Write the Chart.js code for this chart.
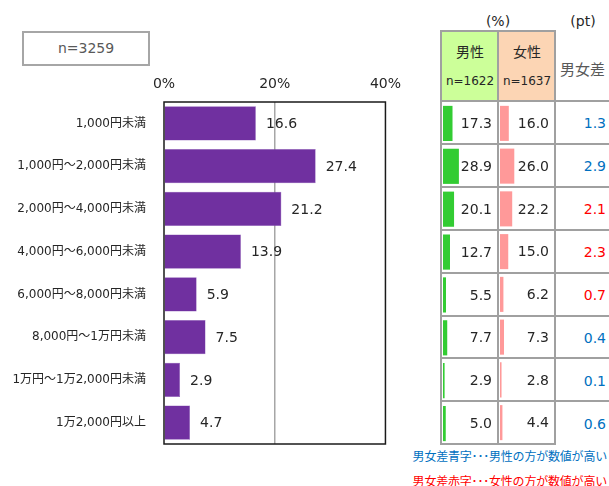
<!DOCTYPE html>
<html lang="ja">
<head>
<meta charset="utf-8">
<script src="https://cdn.jsdelivr.net/npm/chart.js@4/dist/chart.umd.min.js"></script>
<style>
	html, body { margin: 0; padding: 0; background: #fff; }
	#page { position: relative; width: 609px; height: 486px; overflow: hidden; font-family: "DejaVu Sans", "Noto Sans CJK JP", sans-serif; color: #262626; }
	#page canvas, #page .abs { position: absolute; }
	.nbox { left: 22px; top: 31px; width: 124px; height: 31px; border: 2px solid #a6a6a6; color: #595959; font-size: 14px; line-height: 31px; text-align: center; }
	.hline { height: 2px; background: #a0a0a0; }
	.vline { width: 2px; background: #a0a0a0; }
	.head { text-align: center; font-size: 14px; }
	.gap { width: 60px; text-align: right; font-size: 14px; line-height: 16px; }
	.note { right: 2px; font-family: "Noto Sans CJK JP", sans-serif; font-size: 12px; line-height: 14px; letter-spacing: -0.2px; white-space: nowrap; }
</style>
</head>
<body>
<div id="page">
	<div class="abs nbox">n=3259</div>
	<canvas id="mainChart" width="410" height="486" style="left:0;top:0"></canvas>
	<div id="table"></div>
	<canvas id="maleChart" width="57" height="343" style="left:441px;top:102px"></canvas>
	<canvas id="femaleChart" width="57" height="342" style="left:498px;top:102px"></canvas>
</div>
<script>
const categories = ['1,000円未満', '1,000円～2,000円未満', '2,000円～4,000円未満', '4,000円～6,000円未満', '6,000円～8,000円未満', '8,000円～1万円未満', '1万円～1万2,000円未満', '1万2,000円以上'];
const totalValues = [16.6, 27.4, 21.2, 13.9, 5.9, 7.5, 2.9, 4.7];
const maleValues = [17.3, 28.9, 20.1, 12.7, 5.5, 7.7, 2.9, 5.0];
const femaleValues = [16.0, 26.0, 22.2, 15.0, 6.2, 7.3, 2.8, 4.4];
// positive: male higher (blue), negative: female higher (red)
const gapValues = [1.3, 2.9, -2.1, -2.3, -0.7, 0.4, 0.1, 0.6];
const xTicks = [0, 20, 40];

const FONT = '"DejaVu Sans", "Noto Sans CJK JP", sans-serif';
const TEXT = '#262626';

// value labels next to the bars
const barLabels = (xOffset, align) => ({
	id: 'barLabels',
	afterDatasetsDraw(chart) {
		const ctx = chart.ctx;
		const data = chart.data.datasets[0].data;
		ctx.save();
		ctx.font = '14px ' + FONT;
		ctx.fillStyle = TEXT;
		ctx.textAlign = align;
		ctx.textBaseline = 'middle';
		chart.getDatasetMeta(0).data.forEach((bar, i) => {
			const x = align === 'left' ? bar.x + xOffset : xOffset;
			ctx.fillText(data[i].toFixed(1), x, bar.y + 1);
		});
		ctx.restore();
	}
});

const plotFrame = {
	id: 'plotFrame',
	afterDatasetsDraw(chart) {
		const a = chart.chartArea;
		const ctx = chart.ctx;
		ctx.save();
		ctx.strokeStyle = '#1a1a1a';
		ctx.lineWidth = 1.5;
		ctx.strokeRect(a.left, a.top, a.right - a.left, a.bottom - a.top);
		ctx.restore();
	}
};

new Chart(document.getElementById('mainChart'), {
	type: 'bar',
	data: {
		labels: categories,
		datasets: [{
			data: totalValues,
			backgroundColor: '#7030A0',
			borderColor: '#8c5cb8',
			borderWidth: 0.5,
			barPercentage: 0.8,
			categoryPercentage: 1
		}]
	},
	options: {
		indexAxis: 'y',
		responsive: false,
		animation: false,
		layout: { padding: { left: 0, right: 22, top: 70, bottom: 42 } },
		plugins: { legend: { display: false }, tooltip: { enabled: false } },
		scales: {
			x: {
				position: 'top',
				min: 0,
				max: 40,
				afterFit: s => { s.height = 32; },
				afterBuildTicks: s => { s.ticks = xTicks.map(v => ({ value: v })); },
				border: { display: false },
				grid: {
					drawTicks: false,
					color: c => c.tick && c.tick.value === 20 ? '#a6a6a6' : 'rgba(0,0,0,0)',
					lineWidth: 1.5
				},
				ticks: {
					padding: 9,
					color: TEXT,
					font: { family: FONT, size: 14 },
					callback: v => v + '%'
				}
			},
			y: {
				afterFit: s => { s.width = 164; },
				border: { display: false },
				grid: { display: false, drawTicks: false },
				ticks: {
					padding: 18,
					color: TEXT,
					font: { family: FONT, size: 12 }
				}
			}
		}
	},
	plugins: [barLabels(10, 'left'), plotFrame]
});

function miniChart(id, values, color) {
	new Chart(document.getElementById(id), {
		type: 'bar',
		data: {
			labels: categories,
			datasets: [{
				data: values,
				backgroundColor: color,
				barPercentage: 0.82,
				categoryPercentage: 1
			}]
		},
		options: {
			indexAxis: 'y',
			responsive: false,
			animation: false,
			layout: { padding: { left: 2, right: 0, top: 0, bottom: 0 } },
			plugins: { legend: { display: false }, tooltip: { enabled: false } },
			scales: {
				x: { display: false, min: 0, max: 100 },
				y: { display: false }
			}
		},
		plugins: [barLabels(51, 'right')]
	});
}
miniChart('maleChart', maleValues, '#33CC33');
miniChart('femaleChart', femaleValues, '#FF9999');

// table frame, headers and gap column
const table = document.getElementById('table');
function add(cls, style, text) {
	const d = document.createElement('div');
	d.className = 'abs ' + cls;
	d.setAttribute('style', style);
	if (text !== undefined) d.innerHTML = text;
	table.appendChild(d);
	return d;
}
const colX = [441, 498, 555];
const headTop = 31;
const rowTop = 101;
const rowH = 42.9;
add('', 'left:442px;top:32px;width:56px;height:69px;background:#CCFF99');
add('', 'left:499px;top:32px;width:56px;height:69px;background:#FCD5B4');
add('head', 'left:442px;top:41px;width:56px', '男性');
add('head', 'left:499px;top:41px;width:56px', '女性');
add('head', 'left:442px;top:74px;width:56px;font-size:12px', 'n=1622');
add('head', 'left:499px;top:74px;width:56px;font-size:12px', 'n=1637');
add('head', 'left:556px;top:58px;width:54px;font-size:15px;color:#595959;text-align:left;padding-left:4px', '男女差');
add('head', 'left:470px;top:13px;width:56px', '(%)');
add('head', 'left:555px;top:13px;width:56px', '(pt)');
add('hline', `left:${colX[0] - 1}px;top:${headTop - 1}px;width:${colX[2] - colX[0] + 2}px`);
colX.forEach(x => add('vline', `left:${x - 1}px;top:${headTop - 1}px;height:${rowTop + 8 * rowH - headTop + 1}px`));
for (let i = 0; i <= 8; i++) {
	const y = Math.round(rowTop + i * rowH);
	const w = i === 8 ? colX[2] - colX[0] + 2 : 609 - colX[0] + 1;
	add('hline', `left:${colX[0] - 1}px;top:${y - 1}px;width:${w}px`);
}
gapValues.forEach((v, i) => {
	const y = rowTop + i * rowH + rowH / 2 - 8;
	add('gap', `left:546px;top:${y + 1}px;color:${v >= 0 ? '#0070C0' : '#FF0000'}`, Math.abs(v).toFixed(1));
});
add('note', 'top:449px;color:#0070C0', '男女差青字･･･男性の方が数値が高い');
add('note', 'top:474px;color:#FF0000', '男女差赤字･･･女性の方が数値が高い');
</script>
</body>
</html>
